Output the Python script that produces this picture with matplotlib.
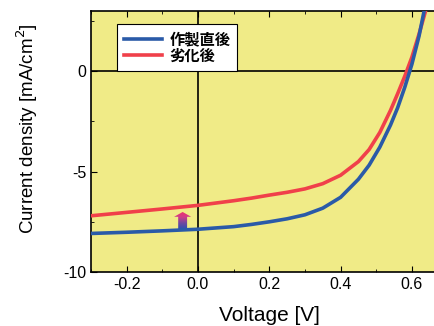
import numpy as np
import matplotlib.pyplot as plt
from matplotlib.patches import FancyArrow
from matplotlib.colors import LinearSegmentedColormap

plt.rcParams['font.family'] = ['Liberation Sans', 'Noto Sans CJK JP', 'DejaVu Sans']
plt.rcParams['axes.unicode_minus'] = False

# J-V data
voltage = [-0.3, -0.2, -0.1, 0.0, 0.1, 0.15, 0.2, 0.25, 0.3, 0.35, 0.4, 0.45, 0.48,
           0.51, 0.54, 0.56, 0.58, 0.6, 0.62, 0.64, 0.66]
j_fresh = [-8.08, -8.02, -7.95, -7.87, -7.74, -7.63, -7.5, -7.35, -7.15, -6.82, -6.28, -5.38, -4.68,
           -3.78, -2.68, -1.82, -0.8, 0.35, 1.75, 3.5, 5.6]
j_aged = [-7.2, -7.03, -6.86, -6.68, -6.45, -6.32, -6.17, -6.03, -5.86, -5.6, -5.18, -4.5, -3.9,
          -3.05, -1.95, -1.12, -0.25, 0.7, 1.85, 3.1, 4.5]
labels = ['作製直後', '劣化後']

fig = plt.figure(figsize=(4.34, 3.26), dpi=100)
ax = fig.add_axes([0.2097, 0.1656, 0.7903, 0.8007])
ax.set_facecolor('#f0eb87')

ax.axhline(0, color='black', lw=1.2, zorder=1)
ax.axvline(0, color='black', lw=1.2, zorder=1)

# gradient arrow (blue -> pink), drawn under the curves
arr = FancyArrow(-0.043, -7.86, 0, 0.85, width=0.025, head_width=0.048,
                 head_length=0.24, length_includes_head=True, lw=0, color='none')
ax.add_patch(arr)
grad = np.linspace(0, 1, 100).reshape(-1, 1)
cmap = LinearSegmentedColormap.from_list('g', ['#3050b0', '#7048a0', '#d03c88', '#f0306c'])
im = ax.imshow(grad, cmap=cmap, origin='lower', extent=[-0.07, -0.015, -7.86, -7.01],
               aspect='auto', zorder=2)
im.set_clip_path(arr)

ax.plot(voltage, j_aged, color='#f0404a', lw=2.6, label=labels[1], zorder=3)
ax.plot(voltage, j_fresh, color='#2a5aa8', lw=2.6, label=labels[0], zorder=4)

ax.set_xlim(-0.3, 0.662)
ax.set_ylim(-10, 3)
ax.set_xticks([-0.2, 0.0, 0.2, 0.4, 0.6])
ax.set_xticks(np.arange(-0.3, 0.66, 0.1), minor=True)
ax.set_yticks([-10, -5, 0])
ax.set_yticks([-7.5, -2.5, 2.5], minor=True)
ax.set_xticklabels(['-0.2', '0.0', '0.2', '0.4', '0.6'])
ax.tick_params(which='both', direction='in', top=True, right=False, labelsize=11.5)
ax.tick_params(which='major', length=4)
ax.tick_params(which='minor', length=2.5)
for s in ax.spines.values():
    s.set_linewidth(1.2)
ax.spines['right'].set_visible(False)

ax.set_xlabel('Voltage [V]', fontsize=15)
ax.set_ylabel('Current density [mA/cm$^2$]', fontsize=13.5)
ax.xaxis.set_label_coords(0.519, -0.13)
ax.yaxis.set_label_coords(-0.148, 0.548)

handles, labs = ax.get_legend_handles_labels()
leg = ax.legend(handles[::-1], labs[::-1], loc='upper left', bbox_to_anchor=(0.075, 0.95),
                frameon=True, fancybox=False, framealpha=1, edgecolor='black',
                prop={'family': ['Noto Sans CJK JP'], 'weight': 'bold', 'size': 11},
                handlelength=2.5, handletextpad=0.5, borderpad=0.45, labelspacing=0.05,
                borderaxespad=0)
leg.get_frame().set_linewidth(0.8)

fig.savefig('out.png', dpi=100)
